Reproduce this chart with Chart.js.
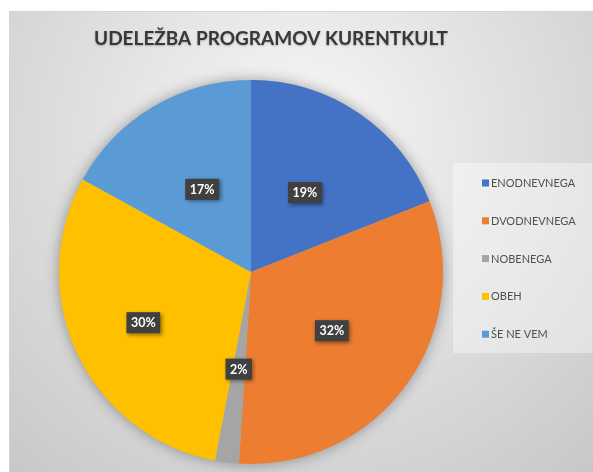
<!DOCTYPE html>
<html>
<head>
<meta charset="utf-8">
<script src="https://cdn.jsdelivr.net/npm/chart.js@4"></script>
<style>
  html, body { margin: 0; padding: 0; background: #ffffff; }
  #wrap { position: relative; width: 593px; height: 472px; }
</style>
</head>
<body>
<div id="wrap"><canvas id="pieChart" width="593" height="472"></canvas></div>
<script>
(function () {
  'use strict';

  // Data
  var categories = ['ENODNEVNEGA', 'DVODNEVNEGA', 'NOBENEGA', 'OBEH', 'ŠE NE VEM'];
  var shares = [19, 32, 2, 30, 17];
  var titleText = 'UDELEŽBA PROGRAMOV KURENTKULT';

  var colors = {
    blue: '#4472C4',
    orange: '#ED7D31',
    gray: '#A5A5A5',
    gold: '#FFC000',
    lightBlue: '#5B9BD5',
    text: '#505050',
    title: '#383838',
    labelBox: '#404040'
  };

  // how far out each data label sits (fraction of radius)
  var labelDist = [0.5, 0.52, 0.51, 0.62, 0.5];

  // frame, gradient background, title, legend
  var backdrop = {
    id: 'backdrop',
    beforeDraw: function (chart) {
      var ctx = chart.ctx;
      ctx.save();
      ctx.fillStyle = '#ffffff';
      ctx.fillRect(0, 0, chart.width, chart.height);
      var g = ctx.createRadialGradient(300, 140, 0, 300, 140, 440);
      g.addColorStop(0, '#f8f8f8');
      g.addColorStop(0.45, '#e2e2e2');
      g.addColorStop(1, '#c8c8c8');
      ctx.fillStyle = g;
      ctx.fillRect(9, 11, chart.width - 9, chart.height - 11);
      ctx.strokeStyle = '#d4d4d4';
      ctx.lineWidth = 1;
      ctx.beginPath();
      ctx.moveTo(9.5, chart.height);
      ctx.lineTo(9.5, 11.5);
      ctx.lineTo(chart.width, 11.5);
      ctx.stroke();

      // title
      ctx.fillStyle = colors.title;
      ctx.font = "bold 19px Lato, 'Open Sans', sans-serif";
      ctx.textAlign = 'center';
      ctx.textBaseline = 'middle';
      ctx.shadowColor = 'rgba(0,0,0,0.25)';
      ctx.shadowBlur = 2;
      ctx.shadowOffsetY = 1;
      ctx.fillText(titleText, 271, 39);
      ctx.shadowColor = 'transparent';

      // legend box
      ctx.fillStyle = 'rgba(255,255,255,0.38)';
      ctx.fillRect(453, 163, 139, 190);
      var ds = chart.data.datasets[0];
      ctx.font = "11px Lato, 'Open Sans', sans-serif";
      ctx.textAlign = 'left';
      chart.data.labels.forEach(function (lab, i) {
        var y = 183 + i * 37.8;
        ctx.fillStyle = ds.backgroundColor[i];
        ctx.fillRect(482, y - 3.5, 7, 7);
        ctx.fillStyle = colors.text;
        ctx.fillText(lab, 491, y + 0.5);
      });
      ctx.restore();
    },
    beforeDatasetsDraw: function (chart) {
      // soft shadow behind the pie
      var arc = chart.getDatasetMeta(0).data[0];
      if (!arc) return;
      var p = arc.getProps(['x', 'y', 'outerRadius'], true);
      var ctx = chart.ctx;
      ctx.save();
      ctx.shadowColor = 'rgba(0,0,0,0.35)';
      ctx.shadowBlur = 14;
      ctx.fillStyle = '#b0b0b0';
      ctx.beginPath();
      ctx.arc(p.x, p.y, p.outerRadius, 0, Math.PI * 2);
      ctx.fill();
      ctx.restore();
    }
  };

  // dark boxes with percentages
  var dataLabels = {
    id: 'dataLabels',
    afterDatasetsDraw: function (chart) {
      var ctx = chart.ctx;
      var meta = chart.getDatasetMeta(0);
      ctx.save();
      ctx.font = "bold 12.5px Lato, 'Open Sans', sans-serif";
      ctx.textAlign = 'center';
      ctx.textBaseline = 'middle';
      meta.data.forEach(function (el, i) {
        var p = el.getProps(['x', 'y', 'startAngle', 'endAngle', 'outerRadius'], true);
        var mid = (p.startAngle + p.endAngle) / 2;
        var r = p.outerRadius * labelDist[i];
        var cx = p.x + Math.cos(mid) * r;
        var cy = p.y + Math.sin(mid) * r;
        var txt = chart.data.datasets[0].data[i] + '%';
        var w = ctx.measureText(txt).width + 9;
        var h = 21;
        ctx.shadowColor = 'rgba(0,0,0,0.45)';
        ctx.shadowBlur = 4;
        ctx.shadowOffsetX = 1.5;
        ctx.shadowOffsetY = 1.5;
        ctx.fillStyle = colors.labelBox;
        ctx.fillRect(cx - w / 2, cy - h / 2, w, h);
        ctx.shadowColor = 'transparent';
        ctx.fillStyle = '#ffffff';
        ctx.fillText(txt, cx, cy + 0.5);
      });
      ctx.restore();
    }
  };

  var ctx = document.getElementById('pieChart').getContext('2d');
  new Chart(ctx, {
    type: 'pie',
    data: {
      labels: categories,
      datasets: [{
        data: shares,
        backgroundColor: [colors.blue, colors.orange, colors.gray, colors.gold, colors.lightBlue],
        borderWidth: 0
      }]
    },
    options: {
      responsive: false,
      animation: false,
      layout: { padding: { left: 59, right: 150, top: 80, bottom: 8 } },
      plugins: {
        legend: { display: false },
        tooltip: { enabled: false },
        title: { display: false }
      }
    },
    plugins: [backdrop, dataLabels]
  });
})();
</script>
</body>
</html>
